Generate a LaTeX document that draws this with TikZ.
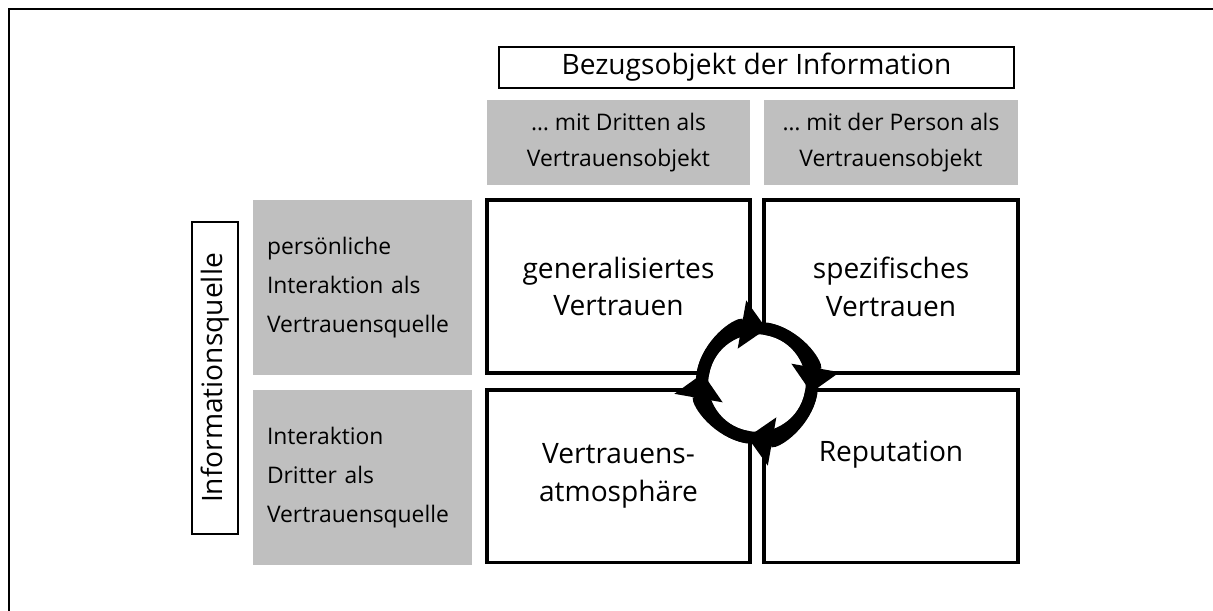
\documentclass[tikz,border=0pt]{standalone}
\usepackage{fontspec}
\setmainfont{Open Sans}
\usetikzlibrary{arrows.meta}

\tikzset{
  thinbox/.style={draw, line width=0.03cm, inner sep=0pt},
  headcell/.style={fill=black!25, inner sep=0pt, align=center, font=\fontsize{13}{20}\selectfont},
  rowcell/.style={fill=black!25, inner xsep=0.28cm, inner ysep=0pt, align=left, text width=3.82cm,
    minimum width=4.38cm, minimum height=3.5cm, font=\fontsize{13}{22.4}\selectfont},
  quadrant/.style={draw, line width=0.08cm, inner sep=0pt, align=center, minimum height=3.46cm,
    font=\fontsize{16}{21.5}\selectfont},
  ring/.style={line width=0.25cm, -{Triangle[width=0.95cm,length=0.5cm]}}
}

\begin{document}
\begin{tikzpicture}[x=0.02cm,y=-0.02cm]
  \useasboundingbox (0,0) rectangle (1213,610);
  \draw[line width=0.045cm] (9,700) -- (9,9) -- (1300,9);

  \node[thinbox, minimum width=10.3cm, minimum height=0.82cm, font=\fontsize{16}{18}\selectfont]
    (bezug) at (756.5,67.5) {Bezugsobjekt der Information};
  \node[headcell, minimum width=5.26cm, minimum height=1.7cm] (dritte) at (618.5,142.5)
    {\dots\ mit Dritten als\\Vertrauensobjekt};
  \node[headcell, minimum width=5.08cm, minimum height=1.7cm] (person) at (891,142.5)
    {\dots\ mit der Person als\\Vertrauensobjekt};

  \node[thinbox, rotate=90, minimum width=6.24cm, minimum height=0.92cm, font=\fontsize{16}{18}\selectfont]
    (quelle) at (215,378) {Informationsquelle};
  \node[rowcell] (persoenlich) at (362.5,287.5) {persönliche\\Interaktion als\\Vertrauensquelle};
  \node[rowcell] (dritter) at (362.5,477.5) {Interaktion\\Dritter als\\Vertrauensquelle};

  \node[quadrant, minimum width=5.26cm] (general) at (618.5,286.5) {generalisiertes\\Vertrauen};
  \node[quadrant, minimum width=5.08cm] (spezif) at (891,286.5) {spezifisches\\Vertrauen};
  \node[quadrant, minimum width=5.26cm] (atmo) at (618.5,476) {Vertrauens-\\atmosphäre};
  \node[quadrant, minimum width=5.08cm] (reput) at (891,476) {Reputation\\\strut};

  \coordinate (c) at (757,383);
  \draw[fill=white, line width=0.25cm] (c) circle (1.1cm);
  \foreach \a in {170,80,-10,-100}
    \draw[ring] (c) ++(\a:1.1cm) arc (\a:\a-90:1.1cm);
\end{tikzpicture}
\end{document}
